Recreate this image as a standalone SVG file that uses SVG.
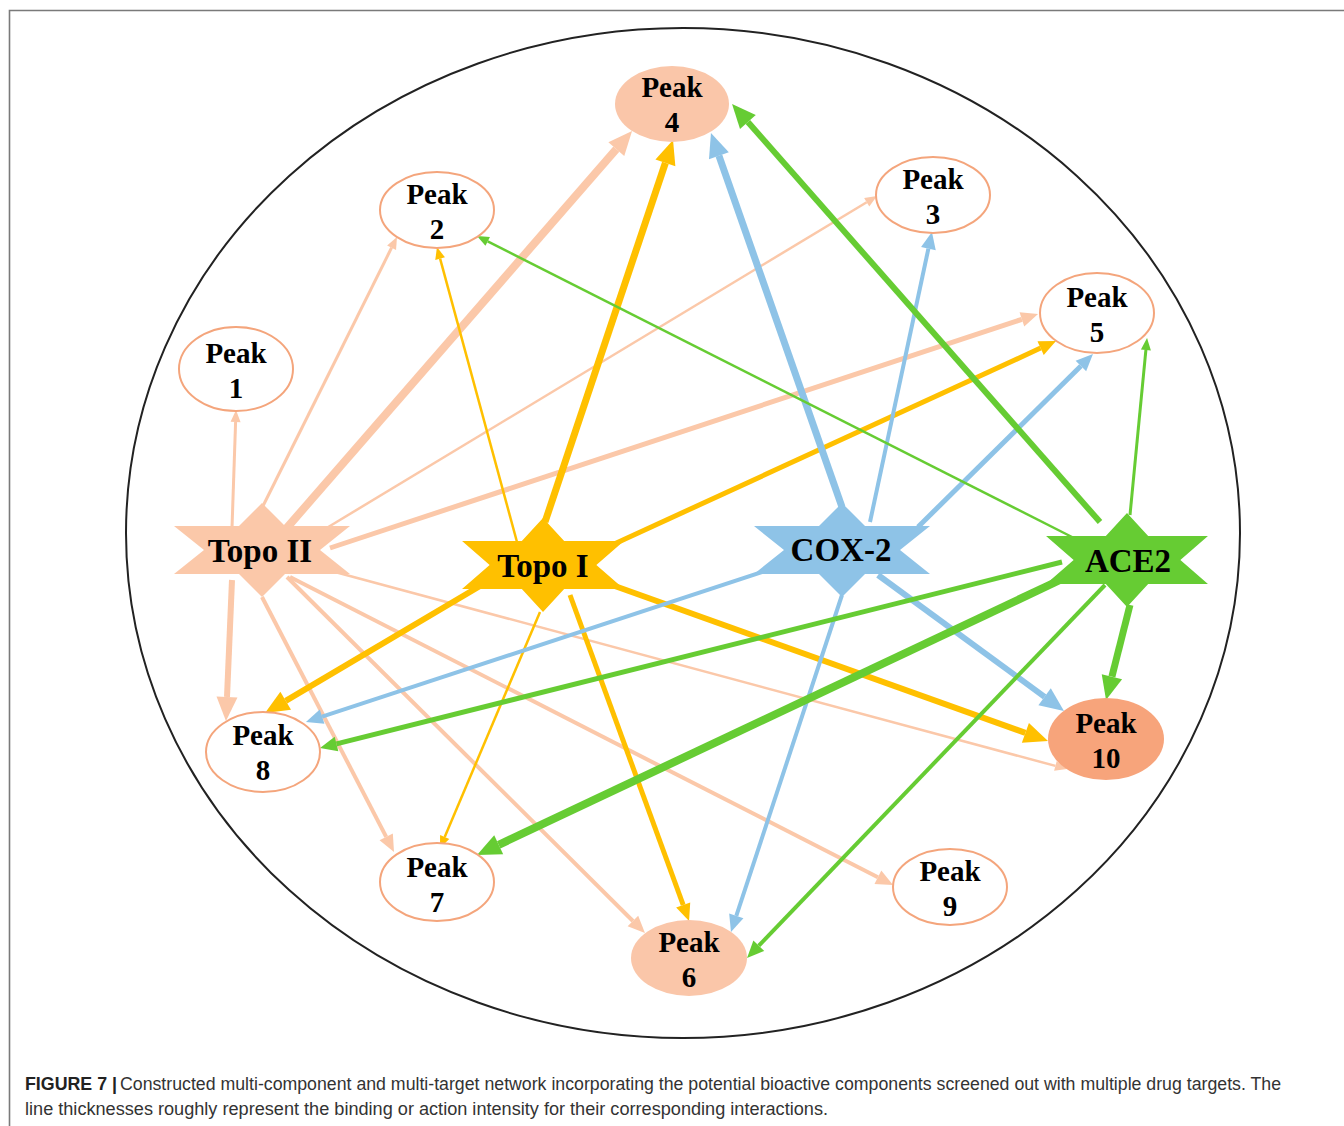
<svg xmlns="http://www.w3.org/2000/svg" width="1344" height="1126" viewBox="0 0 1344 1126">
<style>
.frame{stroke:#7a7a7a;stroke-width:1.6;fill:none}
.outer{fill:none;stroke:#222;stroke-width:2}
.e{fill:none;stroke-linecap:butt}
.t2{stroke:#FBC8A9}
.t1{stroke:#FFC000}
.cx{stroke:#8EC3E7}
.ac{stroke:#66CC33}
.peak{fill:#fff;stroke:#F4A57C;stroke-width:2}
.pk4{fill:#FAC6A9;stroke:none}
.pk10{fill:#F7A47B;stroke:none}
.lbl{font-family:"Liberation Serif","Times New Roman",serif;font-weight:bold;font-size:29px;fill:#000;text-anchor:middle}
.hub{font-family:"Liberation Serif","Times New Roman",serif;font-weight:bold;font-size:33px;fill:#000;text-anchor:middle}
.cap{font-family:"Liberation Sans Narrow","Liberation Sans",Arial,sans-serif;font-size:17.5px;fill:#333}
.capb{font-family:"Liberation Sans Narrow","Liberation Sans",Arial,sans-serif;font-size:17.5px;font-weight:bold;fill:#222}
</style>
<defs>
<path id="star" d="M0,-47 L23,-24 L88,-24 L58,0 L88,24 L23,24 L0,47 L-23,24 L-88,24 L-58,0 L-88,-24 L-23,-24 Z"/>
<marker id="t2S" markerUnits="userSpaceOnUse" markerWidth="13" markerHeight="11" refX="0" refY="5" orient="auto" overflow="visible"><path d="M0,0 L12,5 L0,10 Z" fill="#FBC8A9"/></marker>
<marker id="t2M" markerUnits="userSpaceOnUse" markerWidth="18" markerHeight="16" refX="0" refY="7.5" orient="auto" overflow="visible"><path d="M0,0 L17,7.5 L0,15 Z" fill="#FBC8A9"/></marker>
<marker id="t2L" markerUnits="userSpaceOnUse" markerWidth="25" markerHeight="22" refX="0" refY="10.5" orient="auto" overflow="visible"><path d="M0,0 L24,10.5 L0,21 Z" fill="#FBC8A9"/></marker>
<marker id="t1S" markerUnits="userSpaceOnUse" markerWidth="13" markerHeight="11" refX="0" refY="5" orient="auto" overflow="visible"><path d="M0,0 L12,5 L0,10 Z" fill="#FFC000"/></marker>
<marker id="t1M" markerUnits="userSpaceOnUse" markerWidth="18" markerHeight="16" refX="0" refY="7.5" orient="auto" overflow="visible"><path d="M0,0 L17,7.5 L0,15 Z" fill="#FFC000"/></marker>
<marker id="t1L" markerUnits="userSpaceOnUse" markerWidth="25" markerHeight="22" refX="0" refY="10.5" orient="auto" overflow="visible"><path d="M0,0 L24,10.5 L0,21 Z" fill="#FFC000"/></marker>
<marker id="cxM" markerUnits="userSpaceOnUse" markerWidth="18" markerHeight="16" refX="0" refY="7.5" orient="auto" overflow="visible"><path d="M0,0 L17,7.5 L0,15 Z" fill="#8EC3E7"/></marker>
<marker id="cxL" markerUnits="userSpaceOnUse" markerWidth="25" markerHeight="22" refX="0" refY="10.5" orient="auto" overflow="visible"><path d="M0,0 L24,10.5 L0,21 Z" fill="#8EC3E7"/></marker>
<marker id="acS" markerUnits="userSpaceOnUse" markerWidth="13" markerHeight="11" refX="0" refY="5" orient="auto" overflow="visible"><path d="M0,0 L12,5 L0,10 Z" fill="#66CC33"/></marker>
<marker id="acM" markerUnits="userSpaceOnUse" markerWidth="18" markerHeight="16" refX="0" refY="7.5" orient="auto" overflow="visible"><path d="M0,0 L17,7.5 L0,15 Z" fill="#66CC33"/></marker>
<marker id="acL" markerUnits="userSpaceOnUse" markerWidth="25" markerHeight="22" refX="0" refY="10.5" orient="auto" overflow="visible"><path d="M0,0 L24,10.5 L0,21 Z" fill="#66CC33"/></marker>
</defs>
<rect width="1344" height="1126" fill="#fff"/>
<path class="frame" d="M9.5,1126 L9.5,10.5 L1344,10.5"/>
<ellipse class="outer" cx="683" cy="533" rx="557" ry="505"/>

<g id="connectors">
<!-- Topo II -->
<line class="e t2" stroke-width="3" x1="232" y1="528" x2="235.6" y2="422" marker-end="url(#t2S)"/>
<line class="e t2" stroke-width="3" x1="262" y1="508" x2="391.6" y2="247.7" marker-end="url(#t2S)"/>
<line class="e t2" stroke-width="8" x1="285" y1="530" x2="616.3" y2="149.1" marker-end="url(#t2L)"/>
<line class="e t2" stroke-width="2.5" x1="320" y1="532" x2="866.7" y2="202.2" marker-end="url(#t2S)"/>
<line class="e t2" stroke-width="5" x1="330" y1="548" x2="1021.9" y2="319.3" marker-end="url(#t2M)"/>
<line class="e t2" stroke-width="2.5" x1="335" y1="572" x2="1055.4" y2="765.9" marker-end="url(#t2S)"/>
<line class="e t2" stroke-width="4" x1="290" y1="577" x2="877.9" y2="877.3" marker-end="url(#t2M)"/>
<line class="e t2" stroke-width="4" x1="287" y1="577" x2="632.9" y2="921" marker-end="url(#t2M)"/>
<line class="e t2" stroke-width="4" x1="262" y1="597" x2="386.2" y2="836.9" marker-end="url(#t2M)"/>
<line class="e t2" stroke-width="6" x1="232" y1="580" x2="227" y2="697" marker-end="url(#t2L)"/>
<!-- Topo I -->
<line class="e t1" stroke-width="2.5" x1="517" y1="542" x2="440.1" y2="258.6" marker-end="url(#t1S)"/>
<line class="e t1" stroke-width="7" x1="545" y1="522" x2="665.4" y2="162.8" marker-end="url(#t1L)"/>
<line class="e t1" stroke-width="5" x1="612" y1="545" x2="1040.6" y2="348.1" marker-end="url(#t1M)"/>
<line class="e t1" stroke-width="6" x1="612" y1="585" x2="1025.4" y2="732.9" marker-end="url(#t1L)"/>
<line class="e t1" stroke-width="5" x1="570" y1="595" x2="683.2" y2="905" marker-end="url(#t1M)"/>
<line class="e t1" stroke-width="2.5" x1="540" y1="612" x2="444.7" y2="837" marker-end="url(#t1S)"/>
<line class="e t1" stroke-width="6" x1="480" y1="586" x2="285.7" y2="700.8" marker-end="url(#t1L)"/>
<!-- COX-2 -->
<line class="e cx" stroke-width="7" x1="842" y1="507" x2="718.9" y2="155.7" marker-end="url(#cxL)"/>
<line class="e cx" stroke-width="4" x1="870" y1="522" x2="928.4" y2="248.6" marker-end="url(#cxM)"/>
<line class="e cx" stroke-width="5" x1="918" y1="527" x2="1080.9" y2="366" marker-end="url(#cxM)"/>
<line class="e cx" stroke-width="6" x1="878" y1="575" x2="1044.6" y2="696.8" marker-end="url(#cxL)"/>
<line class="e cx" stroke-width="4" x1="842" y1="595" x2="736.3" y2="915.9" marker-end="url(#cxM)"/>
<line class="e cx" stroke-width="4" x1="768" y1="570" x2="322.1" y2="716.7" marker-end="url(#cxM)"/>
<!-- ACE2 -->
<line class="e ac" stroke-width="6" x1="1100" y1="522" x2="747.9" y2="122" marker-end="url(#acL)"/>
<line class="e ac" stroke-width="2.5" x1="1072" y1="537" x2="487.7" y2="241.4" marker-end="url(#acS)"/>
<line class="e ac" stroke-width="3" x1="1130" y1="515" x2="1145.9" y2="349.9" marker-end="url(#acS)"/>
<line class="e ac" stroke-width="7" x1="1130" y1="605" x2="1111.9" y2="676.7" marker-end="url(#acL)"/>
<line class="e ac" stroke-width="5" x1="1062" y1="562" x2="336.5" y2="743.9" marker-end="url(#acM)"/>
<line class="e ac" stroke-width="8" x1="1060" y1="580" x2="498.7" y2="844.8" marker-end="url(#acL)"/>
<line class="e ac" stroke-width="4" x1="1105" y1="585" x2="758.8" y2="945.7" marker-end="url(#acM)"/>
</g>

<g id="topo2"><use href="#star" transform="translate(262,550)" fill="#FBC8A9"/><text class="hub" x="260" y="562">Topo II</text></g>
<g id="topo1"><use href="#star" transform="translate(543,565) scale(0.92,1)" fill="#FFC000"/><text class="hub" x="543" y="577">Topo I</text></g>
<g id="cox2"><use href="#star" transform="translate(842,550)" fill="#8EC3E7"/><text class="hub" x="841" y="561">COX-2</text></g>
<g id="ace2"><use href="#star" transform="translate(1127,560) scale(0.92,1)" fill="#66CC33"/><text class="hub" x="1128" y="572">ACE2</text></g>

<g id="peak1"><ellipse class="peak" cx="236" cy="369" rx="57" ry="42"/><text class="lbl" x="236" y="363">Peak</text><text class="lbl" x="236" y="398">1</text></g>
<g id="peak2"><ellipse class="peak" cx="437" cy="210" rx="57" ry="38"/><text class="lbl" x="437" y="204">Peak</text><text class="lbl" x="437" y="239">2</text></g>
<g id="peak3"><ellipse class="peak" cx="933" cy="195" rx="57" ry="38"/><text class="lbl" x="933" y="189">Peak</text><text class="lbl" x="933" y="224">3</text></g>
<g id="peak4"><ellipse class="pk4" cx="672" cy="104" rx="57" ry="38"/><text class="lbl" x="672" y="97">Peak</text><text class="lbl" x="672" y="132">4</text></g>
<g id="peak5"><ellipse class="peak" cx="1097" cy="313" rx="57" ry="40"/><text class="lbl" x="1097" y="307">Peak</text><text class="lbl" x="1097" y="342">5</text></g>
<g id="peak6"><ellipse class="pk4" cx="689" cy="958" rx="58" ry="38"/><text class="lbl" x="689" y="952">Peak</text><text class="lbl" x="689" y="987">6</text></g>
<g id="peak7"><ellipse class="peak" cx="437" cy="882" rx="57" ry="39"/><text class="lbl" x="437" y="877">Peak</text><text class="lbl" x="437" y="912">7</text></g>
<g id="peak8"><ellipse class="peak" cx="263" cy="752" rx="57" ry="40"/><text class="lbl" x="263" y="745">Peak</text><text class="lbl" x="263" y="780">8</text></g>
<g id="peak9"><ellipse class="peak" cx="950" cy="887" rx="57" ry="38"/><text class="lbl" x="950" y="881">Peak</text><text class="lbl" x="950" y="916">9</text></g>
<g id="peak10"><ellipse class="pk10" cx="1106" cy="739" rx="58" ry="41"/><text class="lbl" x="1106" y="733">Peak</text><text class="lbl" x="1106" y="768">10</text></g>

<text class="capb" x="25" y="1090" textLength="92" lengthAdjust="spacingAndGlyphs">FIGURE 7 |</text>
<text class="cap" x="120" y="1090" textLength="1161" lengthAdjust="spacingAndGlyphs">Constructed multi-component and multi-target network incorporating the potential bioactive components screened out with multiple drug targets. The</text>
<text class="cap" x="25" y="1115" textLength="803" lengthAdjust="spacingAndGlyphs">line thicknesses roughly represent the binding or action intensity for their corresponding interactions.</text>
</svg>
